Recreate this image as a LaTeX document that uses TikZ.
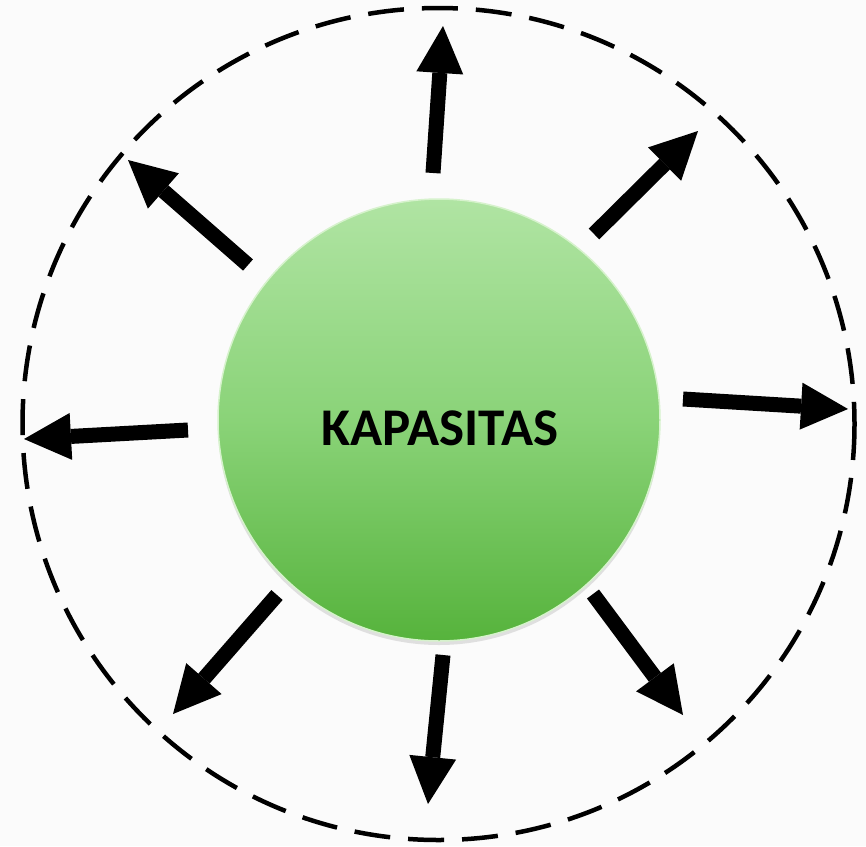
\documentclass[tikz,border=0pt]{standalone}
\usepackage{fontspec}
\setmainfont{Carlito}
\usetikzlibrary{arrows.meta,shadows}

\definecolor{pagebg}{HTML}{FBFBFB}
\definecolor{greentop}{HTML}{B0E4A3}
\definecolor{greenmid}{HTML}{8AD378}
\definecolor{greenbot}{HTML}{56B33C}
\definecolor{greenrim}{HTML}{D6F2CC}

\tikzset{
  outerring/.style={draw=black, line width=4.5pt, dash pattern=on 36pt off 18pt},
  core/.style={circle, minimum size=442pt, inner sep=0pt,
    top color=greentop, bottom color=greenbot, middle color=greenmid,
    draw=greenrim, line width=1.5pt,
    drop shadow={opacity=0.22, shadow xshift=0pt, shadow yshift=-4pt}},
  label/.style={font=\bfseries\fontsize{53}{60}\selectfont, text=black},
  bigarrow/.style={draw=black, line width=15pt,
    -{Triangle[length=47pt, width=47pt, line width=0pt]}},
}

\begin{document}
\begin{tikzpicture}[x=1pt, y=-1pt]
  % page
  \fill[pagebg] (0,0) rectangle (866,846);
  \useasboundingbox (0,0) rectangle (866,846);

  % dashed boundary
  \draw[outerring] (438.5,424) circle[radius=416];

  % central disc
  \node[core] (c) at (439,420) {};
  \node[label] (t) at (440,428) {KAPASITAS};

  % arrow tails and tips
  \coordinate (n0) at (433,173);  \coordinate (n1) at (443,26);
  \coordinate (ne0) at (594,234); \coordinate (ne1) at (698,131);
  \coordinate (e0) at (683,399);  \coordinate (e1) at (848,409);
  \coordinate (se0) at (593,594); \coordinate (se1) at (683,715);
  \coordinate (s0) at (443,655);  \coordinate (s1) at (428,804);
  \coordinate (sw0) at (277,595); \coordinate (sw1) at (173,714);
  \coordinate (w0) at (188,430);  \coordinate (w1) at (24,439);
  \coordinate (nw0) at (248,265); \coordinate (nw1) at (128,160);

  \foreach \d in {n,ne,e,se,s,sw,w,nw}
    \draw[bigarrow] (\d0) -- (\d1);
\end{tikzpicture}
\end{document}
